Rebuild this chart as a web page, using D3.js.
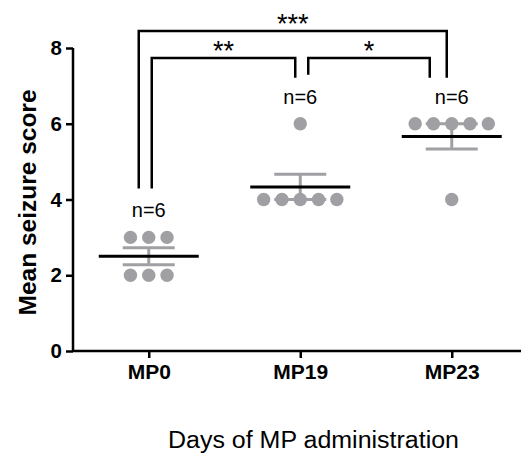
<!DOCTYPE html>
<html>
<head>
<meta charset="utf-8">
<script src="https://cdn.jsdelivr.net/npm/d3@7"></script>
<style>
  body { margin: 0; background: #fff; }
  svg { font-family: Arial, "Liberation Sans", sans-serif; }
</style>
</head>
<body>
<svg id="mainsvg" width="521" height="453"></svg>
<script>
// data
const groups = ['MP0', 'MP19', 'MP23'];
const scoresMP0 = [2, 2, 2, 3, 3, 3];
const scoresMP19 = [4, 4, 4, 4, 4, 6];
const scoresMP23 = [4, 6, 6, 6, 6, 6];
const yTicks = [0, 2, 4, 6, 8];
const comparisons = [
  { from: 'MP0', to: 'MP19', label: '**', level: 0 },
  { from: 'MP19', to: 'MP23', label: '*', level: 0 },
  { from: 'MP0', to: 'MP23', label: '***', level: 1 },
];

const scores = { MP0: scoresMP0, MP19: scoresMP19, MP23: scoresMP23 };

const svg = d3.select('#mainsvg');
const margin = { top: 48, left: 73, bottom: 102 };
const height = +svg.attr('height');

const x = d3.scalePoint()
  .domain(groups)
  .range([margin.left, 527.5])
  .padding(0.5);
const y = d3.scaleLinear()
  .domain([0, 8])
  .range([height - margin.bottom, margin.top]);

const grey = '#a0a0a4';
const dotR = 6.7;
const dotStep = 18.3;

// axes
const yAxis = svg.append('g')
  .attr('transform', `translate(${margin.left},0)`)
  .call(d3.axisLeft(y).tickValues(yTicks).tickSize(7).tickPadding(4));
const xAxis = svg.append('g')
  .attr('transform', `translate(0,${y(0)})`)
  .call(d3.axisBottom(x).tickSize(7).tickPadding(6));
xAxis.select('.domain').attr('d', `M${margin.left},0H521`);
yAxis.select('.domain').attr('d', `M0,${y(8)}V${y(0)}`);
[xAxis, yAxis].forEach(a => {
  a.selectAll('.domain, line').attr('stroke', '#000').attr('stroke-width', 2.5);
  a.selectAll('text')
    .attr('fill', '#000')
    .attr('font-weight', 'bold')
    .attr('font-family', 'Arial, "Liberation Sans", sans-serif');
});
yAxis.selectAll('text').attr('font-size', 20.5);
xAxis.selectAll('text').attr('font-size', 21);

// axis titles
svg.append('text')
  .attr('transform', `translate(36,${(y(0) + y(8)) / 2 + 3}) rotate(-90)`)
  .attr('text-anchor', 'middle')
  .attr('font-size', 24.5)
  .attr('font-weight', 'bold')
  .text('Mean seizure score');
svg.append('text')
  .attr('x', 168)
  .attr('y', 448)
  .attr('font-size', 23)
  .attr('textLength', 291)
  .attr('lengthAdjust', 'spacingAndGlyphs')
  .text('Days of MP administration');

// stats per group
const stats = groups.map(g => {
  const v = scores[g];
  const mean = d3.mean(v);
  const sem = d3.deviation(v) / Math.sqrt(v.length);
  return { g, mean, sem, max: d3.max(v), n: v.length };
});

// error bars (SEM)
const err = svg.append('g').attr('stroke', grey).attr('stroke-width', 3);
stats.forEach(s => {
  const cx = x(s.g);
  err.append('line')
    .attr('x1', cx).attr('x2', cx)
    .attr('y1', y(s.mean - s.sem)).attr('y2', y(s.mean + s.sem));
  [s.mean - s.sem, s.mean + s.sem].forEach(v => {
    err.append('line')
      .attr('x1', cx - 26).attr('x2', cx + 26)
      .attr('y1', y(v)).attr('y2', y(v));
  });
});

// dots, spread side by side where values repeat
const dots = [];
groups.forEach(g => {
  d3.groups(scores[g], d => d).forEach(([val, arr]) => {
    arr.forEach((d, i) => {
      dots.push({ g, val, off: (i - (arr.length - 1) / 2) * dotStep });
    });
  });
});
svg.append('g').selectAll('circle')
  .data(dots)
  .join('circle')
  .attr('cx', d => x(d.g) + d.off)
  .attr('cy', d => y(d.val))
  .attr('r', dotR)
  .attr('fill', grey);

// mean lines
svg.append('g').selectAll('line')
  .data(stats)
  .join('line')
  .attr('x1', d => x(d.g) - 50)
  .attr('x2', d => x(d.g) + 50)
  .attr('y1', d => y(d.mean))
  .attr('y2', d => y(d.mean))
  .attr('stroke', '#000')
  .attr('stroke-width', 3);

// n labels
svg.append('g').selectAll('text')
  .data(stats)
  .join('text')
  .attr('x', d => x(d.g))
  .attr('y', d => y(d.max) - 20)
  .attr('text-anchor', 'middle')
  .attr('font-size', 20)
  .text(d => `n=${d.n}`);

// significance brackets
const legOffset = { 'MP0-0': 3, 'MP0-1': -10, 'MP19-from': 8, 'MP19-to': -5, 'MP23-0': -22, 'MP23-1': -5 };
const statOf = g => stats.find(s => s.g === g);
const br = svg.append('g');
comparisons.forEach(c => {
  const top = c.level === 0 ? y(8) + 10 : y(8) - 17;
  const xa = x(c.from) + (c.from === 'MP19' ? legOffset['MP19-from'] : legOffset[`${c.from}-${c.level}`]);
  const xb = x(c.to) + (c.to === 'MP19' ? legOffset['MP19-to'] : legOffset[`${c.to}-${c.level}`]);
  const ya = y(statOf(c.from).max) - 49;
  const yb = y(statOf(c.to).max) - 46;
  br.append('path')
    .attr('d', `M${xa},${ya}V${top}H${xb}V${yb}`)
    .attr('fill', 'none')
    .attr('stroke', '#000')
    .attr('stroke-width', 2.5);
  br.append('text')
    .attr('x', (xa + xb) / 2)
    .attr('y', top + 2)
    .attr('text-anchor', 'middle')
    .attr('font-size', 27)
    .text(c.label);
});
</script>
</body>
</html>
